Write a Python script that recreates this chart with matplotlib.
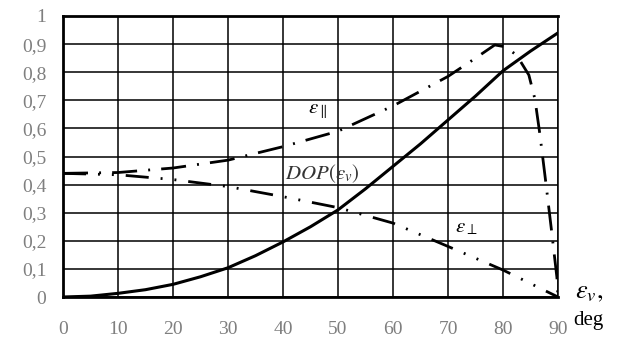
import matplotlib
matplotlib.use("Agg")
import matplotlib.pyplot as plt

plt.rcParams["font.family"] = ["Liberation Serif", "DejaVu Serif"]
plt.rcParams["mathtext.fontset"] = "stix"

# angle of incidence, deg
ang = [0, 5, 10, 15, 20, 25, 30, 35, 40, 45, 50, 55, 60, 65, 70, 75, 80, 85, 90]
dop = [0, 0.003, 0.013, 0.026, 0.045, 0.072, 0.104, 0.147, 0.196, 0.25, 0.31,
       0.385, 0.465, 0.545, 0.63, 0.715, 0.805, 0.875, 0.94]

# parallel emissivity (rises, peaks near 79 deg, falls to 0 at 90)
ang_par = [0, 10, 20, 30, 40, 50, 60, 70, 75, 78.5, 80.5, 82.5, 84.7, 85.8, 86.7,
           87.8, 88.8, 89.8, 90]
eps_par = [0.44, 0.443, 0.459, 0.487, 0.535, 0.59, 0.68, 0.785, 0.85, 0.897, 0.89,
           0.86, 0.79, 0.705, 0.58, 0.405, 0.24, 0.07, 0.0]

# perpendicular emissivity
ang_perp = [0, 10, 20, 30, 40, 50, 60, 70, 80, 90]
eps_perp = [0.44, 0.435, 0.418, 0.393, 0.357, 0.318, 0.263, 0.18, 0.096, 0.0]

fig = plt.figure(figsize=(6.28, 3.42), dpi=100)
ax = fig.add_axes([63 / 628, 45 / 342, 495 / 628, 281 / 342])

ax.plot(ang, dop, color="black", lw=2.2, solid_capstyle="butt")
ax.plot(ang_par, eps_par, color="black", lw=2.0, dashes=(9, 4, 0.7, 4))
ax.plot(ang_perp, eps_perp, color="black", lw=2.0,
        dashes=(8.3, 4.3, 0.7, 4.3, 0.7, 4.3))

ax.set_xlim(0, 90)
ax.set_ylim(0, 1)
ax.set_xticks(range(0, 91, 10))
ax.set_yticks([i / 10 for i in range(11)])
ax.set_yticklabels(["0"] + [f"0,{i}" for i in range(1, 10)] + ["1"])
ax.tick_params(length=0, labelsize=14, labelcolor="#7f7f7f")
ax.tick_params(axis="x", pad=17)
ax.tick_params(axis="y", pad=12)
ax.grid(True, color="black", lw=1.1)
ax.set_axisbelow(True)
for side in ["left", "bottom", "top"]:
    ax.spines[side].set_linewidth(2)
ax.spines["right"].set_linewidth(1.1)

ax.text(44.5, 0.66, r"$\varepsilon_{\parallel}$", fontsize=15, va="center")
ax.text(40.3, 0.44, r"$\mathit{DOP}(\varepsilon_v)$", fontsize=15, va="center",
        color="#333333")
ax.text(71.2, 0.245, r"$\varepsilon_{\perp}$", fontsize=15, va="center")

ax.text(1.035, 0.015, r"$\varepsilon_v,$", transform=ax.transAxes, fontsize=19,
        va="center", ha="left")
ax.text(1.03, -0.085, "deg", transform=ax.transAxes, fontsize=15,
        va="center", ha="left")

fig.savefig("out.png", dpi=100)
